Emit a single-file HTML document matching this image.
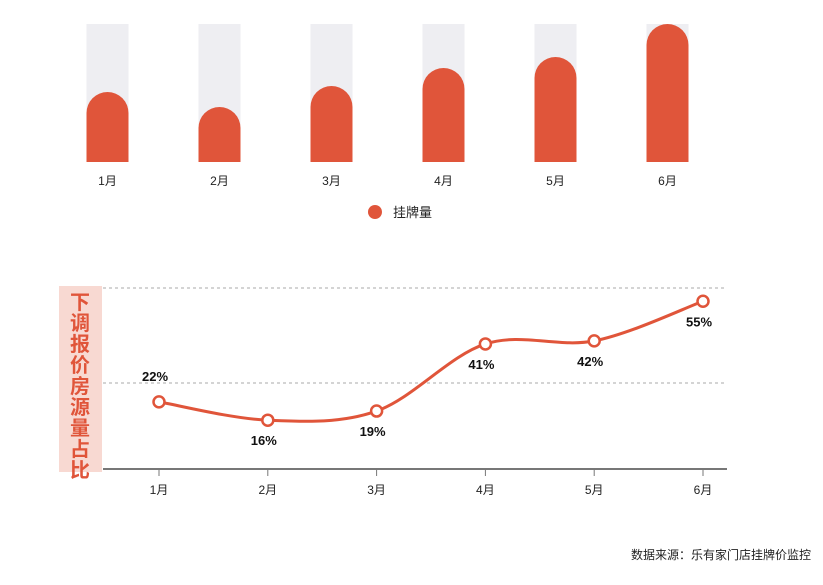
<!DOCTYPE html>
<html><head><meta charset="utf-8"><style>
body{margin:0;background:#fff;font-family:"Liberation Sans","Noto Sans CJK SC",sans-serif;}
svg{display:block}
</style></head><body>
<svg id="c" width="823" height="585" xmlns="http://www.w3.org/2000/svg">
<g id="bars"></g>
<g>
<circle cx="375" cy="212" r="7" fill="#e0553a"/>
<text x="393" y="217" font-size="13" fill="#222">挂牌量</text>
</g>
<g>
<rect x="59" y="286" width="43" height="186" fill="#f8d9d2"/>
<text x="80" y="309" font-size="20" fill="#e0553a" text-anchor="middle" font-weight="bold">
<tspan x="80" dy="0">下</tspan><tspan x="80" dy="21">调</tspan><tspan x="80" dy="21">报</tspan><tspan x="80" dy="21">价</tspan><tspan x="80" dy="21">房</tspan><tspan x="80" dy="21">源</tspan><tspan x="80" dy="21">量</tspan><tspan x="80" dy="21">占</tspan><tspan x="80" dy="21">比</tspan></text>
</g>
<g id="line"></g>
<text x="811" y="559" font-size="12" fill="#222" text-anchor="end">数据来源：乐有家门店挂牌价监控</text>
</svg>
<script>
const categories=["1月","2月","3月","4月","5月","6月"];
const listingValues=[70,55,76,94,105,138];
const barMax=138;
const shareValues=[22,16,19,41,42,55];
const shareLabels=["22%","16%","19%","41%","42%","55%"];
const gridValues=[30,60];
const NS="http://www.w3.org/2000/svg";
function mk(t,a,p){const e=document.createElementNS(NS,t);for(const k in a)e.setAttribute(k,a[k]);p.appendChild(e);return e;}
// bar chart
const bx=i=>107.5+i*112;
const bBase=162,bTop=24;
const by=v=>bBase-(v/barMax)*(bBase-bTop);
const bars=document.getElementById('bars');
categories.forEach((c,i)=>{
 const x=bx(i)-21,w=42;
 const bg=mk('rect',{x:x,y:bTop,width:w,height:bBase-bTop,fill:'#eeeef2'},bars);
 
 
 const t=by(listingValues[i]),r=21;
 const p=mk('path',{d:`M${x},${bBase}V${t+r}A${r},${r} 0 0 1 ${x+w},${t+r}V${bBase}Z`,fill:'#e0553a'},bars);
 
 
 const l=mk('text',{x:bx(i),y:185,'font-size':12,'text-anchor':'middle',fill:'#222'},bars);
 l.textContent=c;
 
 
});
// line chart
const lx=i=>159+i*108.8;
const ly=v=>469-v*3.05;
const g=document.getElementById('line');
gridValues.forEach(v=>{
 const gl=mk('line',{x1:103,x2:727,y1:v==60?288:383,y2:v==60?288:383,stroke:'#aaa','stroke-dasharray':'3,3'},g);
 
 
});
const ax=mk('line',{x1:103,x2:727,y1:469,y2:469,stroke:'#777','stroke-width':2},g);


const pts=shareValues.map((v,i)=>[lx(i),ly(v)]);
let d=`M${pts[0][0]},${pts[0][1]}`;
for(let i=0;i<pts.length-1;i++){
 const p0=pts[Math.max(0,i-1)],p1=pts[i],p2=pts[i+1],p3=pts[Math.min(pts.length-1,i+2)];
 const c1=[p1[0]+(p2[0]-p0[0])/6,p1[1]+(p2[1]-p0[1])/6],c2=[p2[0]-(p3[0]-p1[0])/6,p2[1]-(p3[1]-p1[1])/6];
 d+=`C${c1[0]},${c1[1]} ${c2[0]},${c2[1]} ${p2[0]},${p2[1]}`;
}
const path=mk('path',{d:d,fill:'none',stroke:'#e0553a','stroke-width':3},g);


categories.forEach((c,i)=>{
 const tk=mk('line',{x1:lx(i),x2:lx(i),y1:469,y2:476,stroke:'#777'},g);
 
 
 const t=mk('text',{x:lx(i),y:494,'font-size':12,'text-anchor':'middle',fill:'#222'},g);
 t.textContent=c;
 
 
 const pt=mk('circle',{cx:pts[i][0],cy:pts[i][1],r:5.5,fill:'#fff',stroke:'#e0553a','stroke-width':2.5},g);
 
 
 const above=i===0;
 const vl=mk('text',{x:pts[i][0]-4,y:above?pts[i][1]-21:pts[i][1]+25,'font-size':13,'font-weight':'bold','text-anchor':'middle',fill:'#111'},g);
 vl.textContent=shareLabels[i];
 
 
});
</script>
</body></html>
